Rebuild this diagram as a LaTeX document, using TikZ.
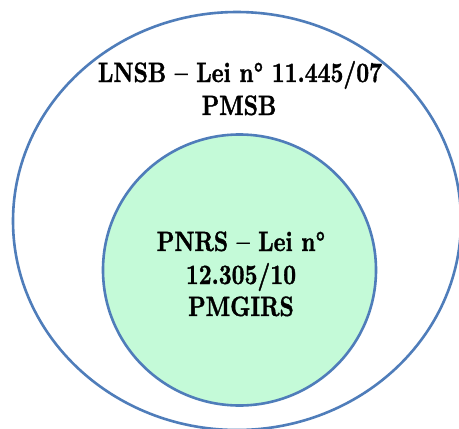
\documentclass[tikz,border=0pt]{standalone}
\usepackage{fontspec}
\setmainfont{lmroman10}[Extension=.otf, UprightFont=*-regular, BoldFont=*-bold, BoldFeatures={FakeStretch=0.80, FakeBold=1.2}]
\usetikzlibrary{shapes.geometric}
\definecolor{ringblue}{RGB}{79,125,186}
\definecolor{mint}{RGB}{196,250,216}
\tikzset{
  ring/.style={ellipse, draw=ringblue, line width=2.6pt, inner sep=0pt, outer sep=0pt},
  lbl/.style={anchor=base, inner sep=0pt, font=\fontsize{28}{33}\selectfont\bfseries, text=black}
}
\begin{document}
\begin{tikzpicture}[x=1pt,y=-1pt]
\useasboundingbox[fill=white] (0,0) rectangle (459,429);
\node[ring, minimum width=448pt, minimum height=418pt] (outer) at (237,221) {};
\node[ring, fill=mint, minimum width=273pt, minimum height=271pt] (inner) at (239.5,270) {};
\node[lbl] (t1) at (240,82) {LNSB – Lei n° 11.445/07};
\node[lbl] (t2) at (239,115) {PMSB};
\node[lbl] (t3) at (241,251) {PNRS – Lei n°};
\node[lbl] (t4) at (241,284) {12.305/10};
\node[lbl] (t5) at (241,316) {PMGIRS};
\end{tikzpicture}
\end{document}
